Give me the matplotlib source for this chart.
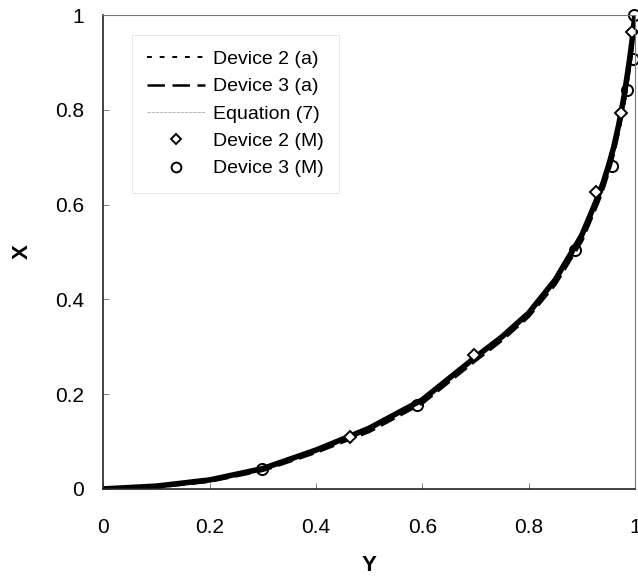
import matplotlib
matplotlib.use('Agg')
import matplotlib.pyplot as plt
from matplotlib.lines import Line2D

plt.rcParams['font.family'] = ['Liberation Sans', 'DejaVu Sans']

# curve points (Y, X)
curve_y = [0.0, 0.1, 0.2, 0.3, 0.4, 0.5, 0.6, 0.7, 0.75, 0.8, 0.85, 0.9, 0.93, 0.94, 0.95, 0.96, 0.97, 0.98, 0.99, 0.997, 1.0]
dev2_a_x = [0.0, 0.005, 0.018, 0.042, 0.08, 0.125, 0.185, 0.275, 0.318, 0.368, 0.437, 0.53, 0.61, 0.64, 0.675, 0.715, 0.765, 0.825, 0.90, 0.96, 1.0]
dev3_a_x = [0.0, 0.005, 0.017, 0.040, 0.078, 0.122, 0.182, 0.272, 0.315, 0.365, 0.433, 0.525, 0.605, 0.635, 0.67, 0.71, 0.76, 0.82, 0.895, 0.955, 1.0]
eq7_x = [0.0, 0.006, 0.019, 0.043, 0.082, 0.128, 0.188, 0.278, 0.321, 0.371, 0.441, 0.535, 0.615, 0.645, 0.68, 0.72, 0.77, 0.83, 0.905, 0.965, 1.0]

# measured points
dev2_m_y = [0.465, 0.697, 0.927, 0.974, 0.994]
dev2_m_x = [0.11, 0.283, 0.627, 0.793, 0.964]
dev3_m_y = [0.298, 0.591, 0.887, 0.958, 0.985, 0.996, 0.998]
dev3_m_x = [0.042, 0.177, 0.504, 0.682, 0.842, 0.907, 1.0]

ticks = [0, 0.2, 0.4, 0.6, 0.8, 1]
tick_labels = ['0', '0.2', '0.4', '0.6', '0.8', '1']

fig = plt.figure(figsize=(6.38, 5.8), dpi=100)
ax = fig.add_axes([0.162, 0.157, 0.833, 0.817])

ax.plot(curve_y, eq7_x, color='black', lw=4, solid_capstyle='round')
ax.plot(curve_y, dev2_a_x, color='black', lw=3, ls=':')
ax.plot(curve_y, dev3_a_x, color='black', lw=3, ls='--')

ax.plot(dev2_m_y, dev2_m_x, ls='none', marker='D', ms=6, mfc='white', mec='black', mew=1.4, clip_on=False)
ax.plot(dev3_m_y, dev3_m_x, ls='none', marker='o', ms=8, mfc='none', mec='black', mew=1.4, clip_on=False)

ax.set_xlim(0, 1)
ax.set_ylim(0, 1)
ax.set_xticks(ticks)
ax.set_xticklabels(tick_labels)
ax.set_yticks(ticks)
ax.set_yticklabels(tick_labels)
ax.tick_params(direction='in', length=4, width=0.6, labelsize=15, colors='#666666', labelcolor='black')
ax.tick_params(axis='x', pad=21)
ax.tick_params(axis='y', pad=14)

for side in ['left', 'bottom']:
    ax.spines[side].set_color('#222222')
    ax.spines[side].set_linewidth(1.2)
for side in ['top', 'right']:
    ax.spines[side].set_color('#777777')
    ax.spines[side].set_linewidth(0.8)

ax.set_xlabel('Y', fontsize=16, fontweight='bold', labelpad=13)
ax.set_ylabel('X', fontsize=16, fontweight='bold', labelpad=16, rotation=90)

handles = [
    Line2D([], [], color='black', lw=1.4, ls=(0, (2.5, 4))),
    Line2D([], [], color='black', lw=1.8, ls=(0, (7, 3))),
    Line2D([], [], color='#aaaaaa', lw=0.6, ls=(0, (4, 1))),
    Line2D([], [], ls='none', marker='D', ms=5.5, mfc='white', mec='black', mew=1.4),
    Line2D([], [], ls='none', marker='o', ms=7, mfc='white', mec='black', mew=1.4),
]
labels = ['Device 2 (a)', 'Device 3 (a)', 'Equation (7)', 'Device 2 (M)', 'Device 3 (M)']
leg = ax.legend(handles, labels, loc='upper left', bbox_to_anchor=(0.053, 0.958),
                fontsize=14, frameon=True, fancybox=False, handlelength=3.0,
                handletextpad=0.4, labelspacing=0.5, borderpad=0.8, borderaxespad=0)
leg.get_frame().set_edgecolor('#dddddd')
leg.get_frame().set_linewidth(0.6)

fig.savefig('out.png', dpi=100)
